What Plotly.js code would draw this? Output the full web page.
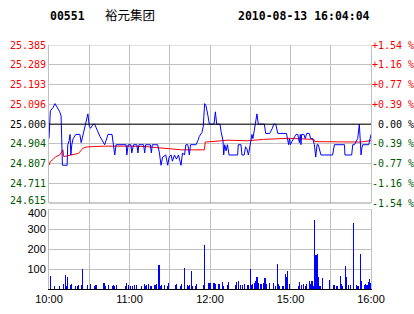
<!DOCTYPE html>
<html><head><meta charset="utf-8">
<script src="https://cdn.plot.ly/plotly-3.0.1.min.js"></script>
<style>html,body{margin:0;padding:0;background:#fff;}#chart{width:414px;height:314px;}</style>
</head><body><div id="chart"></div>
<script>
// ---- data ----
const stockCode = '00551';
const stockName = '裕元集团';
const stamp = '2010-08-13 16:04:04';
const prevClose = 25.000;

const priceTickLabels = ['25.385','25.289','25.193','25.096','25.000','24.904','24.807','24.711','24.615'];
const pctTickLabels = ['+1.54 %','+1.16 %','+0.77 %','+0.39 %','\u00a00.00 %','-0.39 %','-0.77 %','-1.16 %','-1.54 %'];
const volTickVals = [100, 200, 300, 400];

// minutes since 10:00 (trading minutes, lunch break removed)
const timeTickVals = [0,30,60,90,120,150,180,210,240];
const timeTickLabels = ['10:00','','11:00','','12:00','','15:00','','16:00'];

const priceMinutes = [0,1,3,4.5,8,9,10,13.5,14,15,15.7,16.3,17,18,20,23,24,25,27,29,30,31,33,34,36,38,41.5,43,44,47,48,49,50,57.5,58,59,61,61.7,63,65.5,66.3,67,70.5,71.3,72,75.5,76.3,77,81,82.3,83.5,84.7,87,88.5,89.5,91,92,93.5,95,96.5,98.4,99.5,101,102,103.5,104.6,105.5,109.6,111,112,114,115,116,117,118.5,119.5,123,124,125,127.5,128.2,129.7,130.2,131,132,133,134.2,140.6,141.1,143.1,143.8,145.5,146.5,147.5,148.6,149.5,150.5,151.3,152,153,154.3,155,156,160.5,161.5,164.5,166.5,167.5,169,170.5,177,178,178.6,179.2,179.9,181,182.9,184.1,185.4,186.1,186.6,187.3,187.8,188.3,190,191,192,194,195,196.5,197.8,198.8,199.8,200.7,201.5,202.7,211.4,212.7,220.2,220.6,225.6,226.4,227.6,228.9,230.1,231.3,232.1,232.6,233.1,233.8,238.3,239.1,240];
const priceValues = [24.93,25.065,25.08,25.10,25.06,25.04,24.80,24.80,24.90,24.92,24.95,24.85,24.90,24.93,24.95,24.95,24.91,24.94,25.00,25.05,24.99,24.98,25.00,25.00,24.97,24.94,24.90,24.93,24.95,24.95,24.90,24.85,24.90,24.90,24.85,24.90,24.90,24.86,24.90,24.90,24.86,24.90,24.90,24.86,24.90,24.90,24.86,24.90,24.90,24.86,24.80,24.84,24.85,24.80,24.84,24.85,24.82,24.85,24.83,24.85,24.80,24.86,24.85,24.90,24.90,24.85,24.90,24.90,24.92,24.94,24.96,24.99,25.10,25.09,25.04,25.00,25.00,25.06,25.00,25.00,24.965,24.92,24.85,24.90,24.87,24.90,24.85,24.85,24.90,24.90,24.85,24.85,24.89,24.88,24.85,24.89,24.93,24.95,24.93,24.97,25.00,25.05,25.00,25.00,24.955,24.955,24.98,25.00,25.00,24.955,24.955,24.915,24.90,24.93,24.90,24.915,24.94,24.95,24.95,24.93,24.91,24.95,24.90,24.95,24.95,24.93,24.955,24.955,24.93,24.93,24.90,24.84,24.90,24.90,24.875,24.85,24.85,24.90,24.90,24.85,24.85,24.90,24.90,24.915,24.93,25.00,24.92,24.85,24.88,24.90,24.90,24.93,24.95];

const avgMinutes = [0,1,3,5,8,10.4,11,17,22,25.5,28,34,42,60,72,82,95,99,115.8,116.5,123,133,148,160,178,190,197.5,198,220,232,240];
const avgValues = [24.80,24.818,24.828,24.842,24.85,24.875,24.842,24.85,24.858,24.884,24.889,24.891,24.893,24.893,24.891,24.885,24.879,24.875,24.875,24.913,24.916,24.922,24.919,24.926,24.931,24.928,24.926,24.915,24.912,24.913,24.92];

const volMinutes = [1,4,8,11,12,13,14,16,17,20,21,22,24,25,29,31,34,35,41,42,44,47,48,49,50,57,58,59,61,62,64,65,69,71,72,73,74,76,79,80,82,83,84,86,88,89,94,95,98,99,101,103,104,105,106,107,109,110,115,116,119,120,123,124,126,127,129,130,133,134,139,140,141,143,144,146,148,149,150,151,152,153,154,155,156,158,160,161,162,164,167,169,170,171,172,174,175,176,177,178,179,186,187,188,190,191,192,194,195,196,197,198,199,200,201,202,204,209,212,213,214,215,217,218,219,221,222,223,225,227,229,230,231,232,233,235,236,237,238,239,240];
const volValues = [67,17,17,27,72,17,62,22,27,17,17,20,22,102,22,27,17,22,32,17,22,17,22,17,22,17,32,22,17,17,22,22,17,27,17,22,27,17,22,27,122,17,22,22,17,32,22,27,17,27,107,22,17,22,92,17,17,27,22,222,30,32,32,27,25,27,35,17,22,37,22,37,42,22,22,27,22,22,102,22,27,32,42,62,32,27,32,57,27,32,32,17,127,27,17,17,17,77,62,92,27,17,37,22,27,17,27,42,27,38,17,347,172,177,62,17,57,47,22,22,17,17,67,27,17,117,62,22,22,330,22,17,17,177,42,22,27,22,37,52,32];

// ---- chart ----
const priceTickVals = priceTickLabels.map(Number);
const colorFor = v => v > prevClose + 1e-9 ? '#ff0000' : (v < prevClose - 1e-9 ? '#005a00' : '#000000');
const span = (t, v) => `<span style="color:${colorFor(v)}">${t}</span>`;
const lastIdx = priceTickLabels.length - 1;
// bottom-most price label and top-most volume label are drawn as annotations (nudged inward, as in the source)
const leftText = priceTickLabels.map((t,i) => i === lastIdx ? '' : span(t, priceTickVals[i]));
const rightText = pctTickLabels.map((t,i) => span(t, priceTickVals[i]));
const volTickText = volTickVals.map((v,i) => i === volTickVals.length - 1 ? '' : String(v));

const grid = '#c0c0c0';
const mono = 'DejaVu Sans Mono';
const sans = 'Liberation Sans, Arial, sans-serif';

const traces = [
  {x: volMinutes, y: volValues, type: 'bar', xaxis: 'x', yaxis: 'y2', width: 0.8,
   marker: {color: '#0000ff', line: {width: 0}}, hoverinfo: 'skip'},
  {x: avgMinutes, y: avgValues, type: 'scatter', mode: 'lines', xaxis: 'x2', yaxis: 'y',
   line: {color: '#ff0000', width: 1}, hoverinfo: 'skip'},
  {x: priceMinutes, y: priceValues, type: 'scatter', mode: 'lines', xaxis: 'x2', yaxis: 'y',
   line: {color: '#0000ff', width: 1}, hoverinfo: 'skip'},
  {x: [0, 240], y: [prevClose, prevClose], type: 'scatter', mode: 'lines', xaxis: 'x2', yaxis: 'y3',
   line: {width: 0, color: 'rgba(0,0,0,0)'}, hoverinfo: 'skip'}
];

const layout = {
  width: 414, height: 314,
  margin: {l: 49, r: 43, t: 45, b: 25, pad: 0},
  paper_bgcolor: '#ffffff', plot_bgcolor: '#ffffff',
  showlegend: false,
  bargap: 0,
  xaxis: {domain: [0,1], anchor: 'y2', range: [0,240], tickvals: timeTickVals, ticktext: timeTickLabels,
          showgrid: true, gridcolor: grid, gridwidth: 1, zeroline: false, showline: true, linecolor: '#000000', linewidth: 1,
          ticks: '', tickfont: {family: sans, size: 11, color: '#000000'}, fixedrange: true},
  xaxis2: {domain: [0,1], anchor: 'y', matches: 'x', range: [0,240], tickvals: timeTickVals, showticklabels: false,
           showgrid: true, gridcolor: grid, gridwidth: 1, zeroline: false, showline: false, ticks: '', fixedrange: true},
  yaxis: {domain: [0.3512, 1], anchor: 'x2', range: [24.615, 25.385], tickvals: priceTickVals, ticktext: leftText,
          showgrid: true, gridcolor: grid, gridwidth: 1, zeroline: false, showline: true, linecolor: grid, mirror: true,
          ticks: '', tickfont: {family: mono, size: 10}, fixedrange: true},
  yaxis3: {overlaying: 'y', anchor: 'x2', side: 'right', range: [24.615, 25.385], tickvals: priceTickVals, ticktext: rightText,
           showgrid: false, zeroline: false, showline: false, ticks: '', tickfont: {family: mono, size: 10}, fixedrange: true},
  yaxis2: {domain: [0, 0.3266], anchor: 'x', range: [0, 400], tickvals: volTickVals, ticktext: volTickText,
           showgrid: true, gridcolor: grid, gridwidth: 1, zeroline: false, showline: true, linecolor: grid, mirror: true,
           ticks: '', tickfont: {family: sans, size: 11, color: '#000000'}, fixedrange: true},
  shapes: [
    {type: 'line', layer: 'above', xref: 'paper', x0: 0, x1: 1, yref: 'y', y0: 24.615, y1: 24.615, line: {color: '#000000', width: 1}},
    {type: 'line', layer: 'below', xref: 'paper', x0: 0, x1: 1, yref: 'y', y0: 25.385, y1: 25.385, line: {color: grid, width: 1}},
    {type: 'line', layer: 'below', xref: 'paper', x0: 0, x1: 1, yref: 'y2', y0: 400, y1: 400, line: {color: grid, width: 1}},
    {type: 'line', layer: 'above', xref: 'paper', x0: 0, x1: 1, yref: 'y', y0: prevClose, y1: prevClose, line: {color: '#000000', width: 1}}
  ],
  annotations: [
    {text: stockCode, xref: 'paper', yref: 'paper', x: -0.003, y: 1.12, xanchor: 'left', yanchor: 'middle', showarrow: false,
     font: {family: mono, size: 11.5, weight: 'bold', color: '#000000'}},
    {text: stockName, xref: 'paper', yref: 'paper', x: 0.168, y: 1.125, xanchor: 'left', yanchor: 'middle', showarrow: false,
     font: {family: 'Noto Sans CJK SC', size: 12.5, color: '#000000'}},
    {text: stamp, xref: 'paper', yref: 'paper', x: 0.58, y: 1.12, xanchor: 'left', yanchor: 'middle', showarrow: false,
     font: {family: mono, size: 11.5, weight: 'bold', color: '#000000'}},
    {text: span(priceTickLabels[lastIdx], priceTickVals[lastIdx]), xref: 'paper', yref: 'y', x: 0, y: priceTickVals[lastIdx],
     xanchor: 'right', yanchor: 'middle', xshift: -2, yshift: 3, showarrow: false, borderpad: 0,
     font: {family: mono, size: 10}},
    {text: String(volTickVals[volTickVals.length - 1]), xref: 'paper', yref: 'y2', x: 0, y: volTickVals[volTickVals.length - 1],
     xanchor: 'right', yanchor: 'middle', xshift: -2, yshift: -4, showarrow: false, borderpad: 0,
     font: {family: sans, size: 11, color: '#000000'}}
  ]
};

Plotly.newPlot('chart', traces, layout, {staticPlot: true, displayModeBar: false});
</script>
</body></html>
